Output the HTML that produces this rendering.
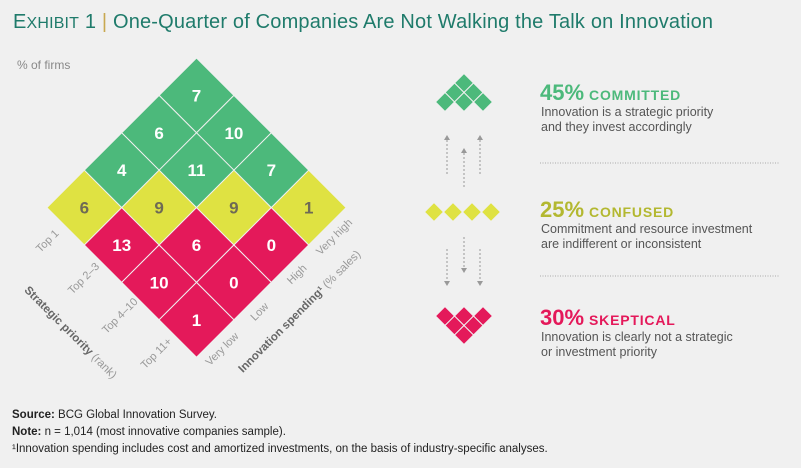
<!DOCTYPE html>
<html><head><meta charset="utf-8"><style>
body{margin:0;background:#f0f0f0;font-family:"Liberation Sans",sans-serif;}
svg{display:block}
</style></head><body>
<svg width="801" height="468" viewBox="0 0 801 468">
<text x="13" y="28" font-size="20" fill="#1f7b6b" textLength="700"><tspan font-size="20">E</tspan><tspan font-size="16">XHIBIT</tspan> 1 <tspan fill="#c8a850">|</tspan> One-Quarter of Companies Are Not Walking the Talk on Innovation</text>
<text x="17" y="69" font-size="12" fill="#888">% of firms</text>
<g id="grid"></g>
<g id="labels" font-size="11" fill="#999"></g>
<text transform="translate(68,335) rotate(45)" text-anchor="middle" font-size="11.5" fill="#666"><tspan font-weight="bold">Strategic priority</tspan><tspan fill="#999"> (rank)</tspan></text>
<text transform="translate(302,314) rotate(-45)" text-anchor="middle" font-size="11.5" fill="#666"><tspan font-weight="bold">Innovation spending¹</tspan><tspan fill="#999"> (% sales)</tspan></text>
<g id="icons"></g>
<g stroke="#999" stroke-width="1" stroke-dasharray="2,2" fill="none">
<line x1="447" y1="140" x2="447" y2="176"/><line x1="464" y1="153" x2="464" y2="187"/><line x1="480" y1="140" x2="480" y2="176"/>
<line x1="447" y1="249" x2="447" y2="281"/><line x1="464" y1="237" x2="464" y2="268"/><line x1="480" y1="249" x2="480" y2="281"/>
</g>
<g fill="#999">
<path d="M444,140 L450,140 L447,135Z"/><path d="M461,153 L467,153 L464,148Z"/><path d="M477,140 L483,140 L480,135Z"/>
<path d="M444,281 L450,281 L447,286Z"/><path d="M461,268 L467,268 L464,273Z"/><path d="M477,281 L483,281 L480,286Z"/>
</g>
<g>
<text x="540" y="100" fill="#4cb97b" font-weight="bold"><tspan font-size="22">45%</tspan><tspan font-size="14" dx="5" letter-spacing="0.8">COMMITTED</tspan></text>
<text x="541" y="116" font-size="12.5" fill="#555">Innovation is a strategic priority</text>
<text x="541" y="131" font-size="12.5" fill="#555">and they invest accordingly</text>
</g>
<line x1="540" y1="163" x2="779" y2="163" stroke="#aaa" stroke-dasharray="1,1.5"/>
<g>
<text x="540" y="217" fill="#b3b830" font-weight="bold"><tspan font-size="22">25%</tspan><tspan font-size="14" dx="5" letter-spacing="0.8">CONFUSED</tspan></text>
<text x="541" y="233" font-size="12.5" fill="#555">Commitment and resource investment</text>
<text x="541" y="248" font-size="12.5" fill="#555">are indifferent or inconsistent</text>
</g>
<line x1="540" y1="276" x2="779" y2="276" stroke="#aaa" stroke-dasharray="1,1.5"/>
<g>
<text x="540" y="325" fill="#e4195a" font-weight="bold"><tspan font-size="22">30%</tspan><tspan font-size="14" dx="5" letter-spacing="0.8">SKEPTICAL</tspan></text>
<text x="541" y="341" font-size="12.5" fill="#555">Innovation is clearly not a strategic</text>
<text x="541" y="356" font-size="12.5" fill="#555">or investment priority</text>
</g>
<g font-size="11.5" fill="#222">
<text x="12" y="418"><tspan font-weight="bold">Source:</tspan> BCG Global Innovation Survey.</text>
<text x="12" y="435"><tspan font-weight="bold">Note:</tspan> n = 1,014 (most innovative companies sample).</text>
<text x="12" y="452">¹Innovation spending includes cost and amortized investments, on the basis of industry-specific analyses.</text>
</g>
</svg>
<script>
const rowLabels=["Top 1","Top 2–3","Top 4–10","Top 11+"];
const colLabels=["Very high","High","Low","Very low"];
const values=[[7,6,4,6],[10,11,9,13],[7,9,6,10],[1,0,0,1]];
const NS="http://www.w3.org/2000/svg";
const cx0=196.5,cy0=95.4,s=37.4;
function cellX(r,c){return cx0+s*(r-c);}
function cellY(r,c){return cy0+s*(r+c);}
function color(r,c){return r+c<=2?"#4cb97b":(r+c==3?"#dfe242":"#e4195a");}
const grid=document.getElementById("grid");
for(let r=0;r<4;r++)for(let c=0;c<4;c++){
 const x=cellX(r,c),y=cellY(r,c);
 const p=document.createElementNS(NS,"path");
 p.setAttribute("d",`M${x},${y-s}L${x+s},${y}L${x},${y+s}L${x-s},${y}Z`);
 p.setAttribute("fill",color(r,c));p.setAttribute("stroke","#f0f0f0");p.setAttribute("stroke-width","1");
 
 
 grid.appendChild(p);
 const t=document.createElementNS(NS,"text");
 t.setAttribute("x",x);t.setAttribute("y",y+6);t.setAttribute("text-anchor","middle");
 t.setAttribute("font-size","17");t.setAttribute("font-weight","bold");
 t.setAttribute("fill",r+c==3?"#6e6a55":"#fff");
 t.textContent=values[r][c];
 
 
 grid.appendChild(t);
}
const labels=document.getElementById("labels");
for(let r=0;r<4;r++){
 const x=cellX(r,3)-s*(0.92+0.03*r),y=cellY(r,3)+s*0.96;
 const t=document.createElementNS(NS,"text");
 t.setAttribute("transform",`translate(${x},${y}) rotate(-45)`);
 t.setAttribute("text-anchor","middle");t.textContent=rowLabels[r];
 
 
 labels.appendChild(t);
}
for(let c=0;c<4;c++){
 const x=cellX(3,c)+s*0.75,y=cellY(3,c)+s*0.85;
 const t=document.createElementNS(NS,"text");
 t.setAttribute("transform",`translate(${x},${y}) rotate(-45)`);
 t.setAttribute("text-anchor","middle");t.textContent=colLabels[c];
 
 
 labels.appendChild(t);
}
const icons=document.getElementById("icons");
function mini(x,y,f){
 const h=9.5;
 const p=document.createElementNS(NS,"path");
 p.setAttribute("d",`M${x},${y-h}L${x+h},${y}L${x},${y+h}L${x-h},${y}Z`);
 p.setAttribute("fill",f);p.setAttribute("stroke","#f0f0f0");p.setAttribute("stroke-width","1");
 
 
 icons.appendChild(p);
}
[[464,83],[454.5,92.5],[473.5,92.5],[445,102],[464,102],[483,102]].forEach(a=>mini(a[0],a[1],"#4cb97b"));
[[434,212],[453,212],[472,212],[491,212]].forEach(a=>mini(a[0],a[1],"#dfe242"));
[[445,316],[464,316],[483,316],[454.5,325.5],[473.5,325.5],[464,335]].forEach(a=>mini(a[0],a[1],"#e4195a"));
</script>
</body></html>
